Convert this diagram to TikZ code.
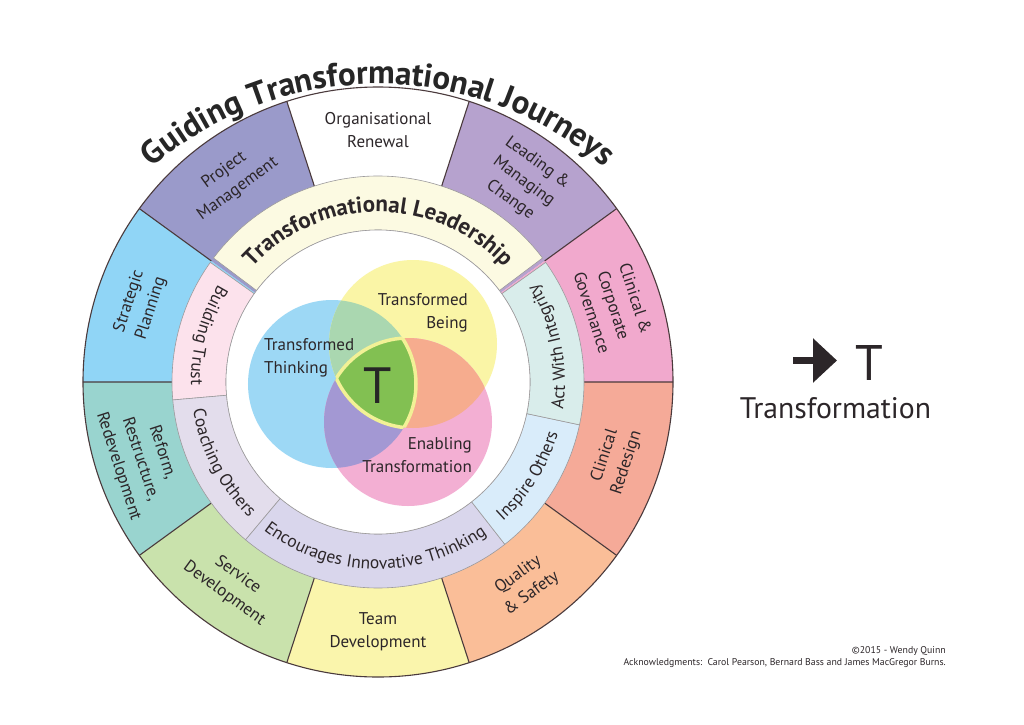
\documentclass[tikz,border=0pt]{standalone}
\usepackage{fontspec}
\setmainfont{PT Sans}
\usepackage{xcolor}
\usetikzlibrary{decorations.text, arrows.meta}

\definecolor{inkgray}{HTML}{2C2629}
\definecolor{rimdark}{HTML}{4A3A3C}
\definecolor{segline}{HTML}{9C9A9C}
\definecolor{orgren}{HTML}{FFFFFF}
\definecolor{leadchg}{HTML}{B6A2CE}
\definecolor{clingov}{HTML}{F1A9CD}
\definecolor{clinred}{HTML}{F5AA98}
\definecolor{qualsaf}{HTML}{FABE98}
\definecolor{teamdev}{HTML}{FAF5AC}
\definecolor{servdev}{HTML}{C9E2AC}
\definecolor{reform}{HTML}{99D4CF}
\definecolor{stratpl}{HTML}{90D5F6}
\definecolor{projmg}{HTML}{9A9ACA}
\definecolor{leader}{HTML}{FCFAE2}
\definecolor{trust}{HTML}{FCE2EC}
\definecolor{coach}{HTML}{E3DDEC}
\definecolor{innov}{HTML}{D9D6EC}
\definecolor{inspire}{HTML}{D9ECFA}
\definecolor{integr}{HTML}{D9EDEB}
\definecolor{thinkc}{HTML}{9DD8F5}
\definecolor{beingc}{HTML}{FAF5A6}
\definecolor{enablec}{HTML}{F3AFD3}
\definecolor{thinkbeing}{HTML}{AAD7B0}
\definecolor{beingenable}{HTML}{F6AC8E}
\definecolor{thinkenable}{HTML}{A398D3}
\definecolor{tcore}{HTML}{82C052}
\definecolor{tedge}{HTML}{F2F196}

\begin{document}
\begin{tikzpicture}[x=1pt, y=1pt, font=\fontsize{17}{23}\selectfont, text=inkgray]
  \tikzstyle{rimlabel} = [align=center, inner sep=0pt]
  \tikzstyle{vennlabel} = [align=center, inner sep=0pt]
  \tikzstyle{rimline} = [draw=rimdark, line width=1.1pt]
  \tikzstyle{bandseg} = [draw=segline, line width=0.6pt]
  \tikzstyle{coreedge} = [draw=tedge, line width=3.5pt]

  \useasboundingbox (-378,-342) rectangle (646,382);

  \fill[orgren] (0,0) -- (72:295) arc[start angle=72, end angle=108, radius=295] -- cycle;
  \fill[leadchg] (0,0) -- (36:295) arc[start angle=36, end angle=72, radius=295] -- cycle;
  \fill[clingov] (0,0) -- (0:295) arc[start angle=0, end angle=36, radius=295] -- cycle;
  \fill[clinred] (0,0) -- (324:295) arc[start angle=324, end angle=360, radius=295] -- cycle;
  \fill[qualsaf] (0,0) -- (288:295) arc[start angle=288, end angle=324, radius=295] -- cycle;
  \fill[teamdev] (0,0) -- (252:295) arc[start angle=252, end angle=288, radius=295] -- cycle;
  \fill[servdev] (0,0) -- (216:295) arc[start angle=216, end angle=252, radius=295] -- cycle;
  \fill[reform] (0,0) -- (180:295) arc[start angle=180, end angle=216, radius=295] -- cycle;
  \fill[stratpl] (0,0) -- (144:295) arc[start angle=144, end angle=180, radius=295] -- cycle;
  \fill[projmg] (0,0) -- (108:295) arc[start angle=108, end angle=144, radius=295] -- cycle;
  \draw[rimline] (0,0) circle[radius=295];
  \draw[rimline] (0:206) -- (0:295) (36:206) -- (36:295) (72:206) -- (72:295)
    (108:206) -- (108:295) (144:206) -- (144:295) (180:206) -- (180:295)
    (216:206) -- (216:295) (252:206) -- (252:295) (288:206) -- (288:295)
    (324:206) -- (324:295);

  \path[fill=leader, bandseg] (37:152) -- (37:206) arc[start angle=37, end angle=143, radius=206] -- (143:152) arc[start angle=143, end angle=37, radius=152] -- cycle;
  \path[fill=trust, bandseg] (144.5:152) -- (144.5:206) arc[start angle=144.5, end angle=185, radius=206] -- (185:152) arc[start angle=185, end angle=144.5, radius=152] -- cycle;
  \path[fill=coach, bandseg] (185:152) -- (185:206) arc[start angle=185, end angle=230, radius=206] -- (230:152) arc[start angle=230, end angle=185, radius=152] -- cycle;
  \path[fill=innov, bandseg] (230:152) -- (230:206) arc[start angle=230, end angle=308, radius=206] -- (308:152) arc[start angle=308, end angle=230, radius=152] -- cycle;
  \path[fill=inspire, bandseg] (308:152) -- (308:206) arc[start angle=308, end angle=348, radius=206] -- (348:152) arc[start angle=348, end angle=308, radius=152] -- cycle;
  \path[fill=integr, bandseg] (348:152) -- (348:206) arc[start angle=348, end angle=395.5, radius=206] -- (395.5:152) arc[start angle=395.5, end angle=348, radius=152] -- cycle;
  \draw[segline, line width=0.6pt, fill=white] (0,0) circle[radius=152];

  \coordinate (Think) at (-46,-2);
  \coordinate (Being) at (35,38);
  \coordinate (Enable) at (30,-40);
  \fill[thinkc] (Think) circle[radius=84];
  \fill[beingc] (Being) circle[radius=84];
  \fill[enablec] (Enable) circle[radius=84];
  \begin{scope}
    \clip (Think) circle[radius=84];
    \fill[thinkbeing] (Being) circle[radius=84];
  \end{scope}
  \begin{scope}
    \clip (Being) circle[radius=84];
    \fill[beingenable] (Enable) circle[radius=84];
  \end{scope}
  \begin{scope}
    \clip (Think) circle[radius=84];
    \fill[thinkenable] (Enable) circle[radius=84];
  \end{scope}
  \begin{scope}
    \clip (Think) circle[radius=84];
    \clip (Being) circle[radius=84];
    \fill[tcore] (Enable) circle[radius=84];
    \draw[coreedge] (Enable) circle[radius=84];
  \end{scope}
  \begin{scope}
    \clip (Think) circle[radius=84];
    \clip (Enable) circle[radius=84];
    \draw[coreedge] (Being) circle[radius=84];
  \end{scope}
  \begin{scope}
    \clip (Being) circle[radius=84];
    \clip (Enable) circle[radius=84];
    \draw[coreedge] (Think) circle[radius=84];
  \end{scope}

  \node[vennlabel, align=left, anchor=west] (ThinkLabel) at (-114,24) {Transformed\\Thinking};
  \node[vennlabel, align=right, anchor=east] (BeingLabel) at (90,69) {Transformed\\Being};
  \node[vennlabel, align=right, anchor=east] (EnableLabel) at (94,-73) {Enabling\\Transformation};
  \node[anchor=base, inner sep=0pt, text=black!85, font=\fontsize{51}{51}\selectfont] (CoreT) at (0,-21) {T};

  \node[rimlabel] (OrgRenewal) at (90:252) {Organisational\\Renewal};
  \node[rimlabel, rotate=-36] (LeadChange) at (54:248) {Leading \&\\Managing\\Change};
  \node[rimlabel, rotate=-72] (ClinGov) at (18:248) {Clinical \&\\Corporate\\Governance};
  \node[rimlabel, rotate=72] (ClinRedesign) at (342:250) {Clinical\\Redesign};
  \node[rimlabel, rotate=36] (QualSafety) at (306:250) {Quality\\\& Safety};
  \node[rimlabel] (TeamDev) at (270:250) {Team\\Development};
  \node[rimlabel, rotate=-36] (ServDev) at (234:250) {Service\\Development};
  \node[rimlabel, rotate=-72] (Reform) at (198:250) {Reform,\\Restructure,\\Redevelopment};
  \node[rimlabel, rotate=72] (StratPlan) at (162:250) {Strategic\\Planning};
  \node[rimlabel, rotate=36] (ProjMgmt) at (126:250) {Project\\Management};

  \path[decorate, decoration={text along path, text align=center, text color=inkgray,
    text={|\bfseries\fontsize{23}{26}\selectfont|Transformational Leadership}}]
    (170:170) arc[start angle=170, end angle=10, radius=170];
  \path[decorate, decoration={text along path, text align=center, text color=inkgray,
    text={|\fontsize{17.5}{20}\selectfont|Building Trust}}]
    (134.75:187) arc[start angle=134.75, end angle=194.75, radius=187];
  \path[decorate, decoration={text along path, text align=center, text color=inkgray,
    text={|\fontsize{17.5}{20}\selectfont|Coaching Others}}]
    (177.5:187) arc[start angle=177.5, end angle=237.5, radius=187];
  \path[decorate, decoration={text along path, text align=center, text color=inkgray,
    text={|\fontsize{17.5}{20}\selectfont|Encourages Innovative Thinking}}]
    (219:187) arc[start angle=219, end angle=319, radius=187];
  \path[decorate, decoration={text along path, text align=center, text color=inkgray,
    text={|\fontsize{17.5}{20}\selectfont|Inspire Others}}]
    (298:187) arc[start angle=298, end angle=358, radius=187];
  \path[decorate, decoration={text along path, text align=center, text color=inkgray,
    text={|\fontsize{17.5}{20}\selectfont|Act With Integrity}}]
    (341.75:187) arc[start angle=341.75, end angle=401.75, radius=187];

  \path[shift={(0,-50)}, decorate, decoration={text along path, text align=center, text color=black!85,
    text={|\bfseries\fontsize{33}{36}\selectfont|Guiding Transformational Journeys}}]
    (165:348) arc[start angle=165, end angle=15, radius=348];

  \coordinate (ArrowTail) at (415,21.5);
  \coordinate (ArrowTip) at (459,21.5);
  \draw[inkgray, line width=7pt, -{Triangle[length=24pt, width=43pt]}] (ArrowTail) -- (ArrowTip);
  \node[anchor=base, inner sep=0pt, font=\fontsize{50}{50}\selectfont] (KeyT) at (491,2) {T};
  \node[anchor=base, inner sep=0pt, font=\fontsize{29.7}{32}\selectfont] (KeyWord) at (457.5,-36) {Transformation};

  \node[anchor=base east, inner sep=0pt, font=\fontsize{9.8}{11}\selectfont] (Copyright) at (568,-271) {\textcopyright 2015 - Wendy Quinn};
  \node[anchor=base east, inner sep=0pt, font=\fontsize{9.8}{11}\selectfont] (Thanks) at (568,-283) {Acknowledgments:\ \ Carol Pearson, Bernard Bass and James MacGregor Burns.};
\end{tikzpicture}
\end{document}
